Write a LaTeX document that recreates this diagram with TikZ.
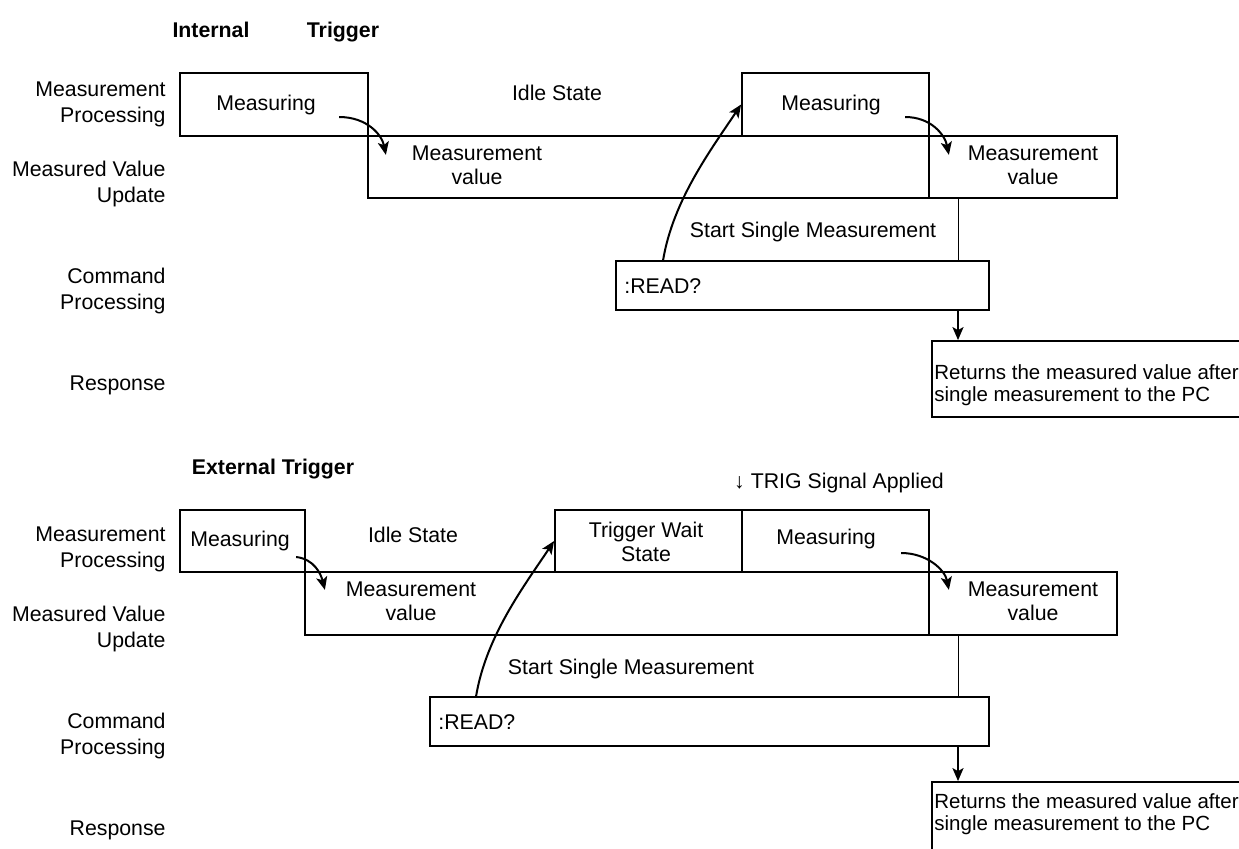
\documentclass[tikz,border=0pt]{standalone}
\usepackage{fontspec}
\setmainfont{Liberation Sans}
\usetikzlibrary{arrows.meta,fit,calc}

\tikzset{
  cell/.style={draw, line width=0.9pt, inner sep=0pt},
  txt/.style={inner sep=0pt, align=center, font=\fontsize{10.65}{11.8}\selectfont},
  lane/.style={inner sep=0pt, align=right, anchor=east, font=\fontsize{10.65}{13}\selectfont},
  note/.style={inner sep=0pt, align=left, anchor=west, font=\fontsize{10.25}{10.8}\selectfont},
  head/.style={inner sep=0pt, anchor=base, font=\bfseries\fontsize{10.65}{13}\selectfont},
  arr/.style={line width=1pt, -{Stealth[length=6.5pt,width=5.5pt,inset=1.5pt]}},
  tap/.style={line width=0.5pt}
}

\begin{document}
\begin{tikzpicture}[x=0.5pt, y=-0.5pt]
\useasboundingbox (0,0) rectangle (1239,848);
\clip (0,0) rectangle (1239,848);
% lanes
\foreach \y/\s in {0/A,445/C}{
  \node[lane] (mp\s) at (166,104+\y) {Measurement\\Processing};
  \node[lane] (mv\s) at (166,184+\y) {Measured Value\\Update};
  \node[lane] (cp\s) at (166,291+\y) {Command\\Processing};
  \node[lane] (rs\s) at (166,385+\y) {Response};
}
% internal trigger
\node[head] (intA) at (211,37) {Internal};
\node[head] (intB) at (343,37) {Trigger};
\node[cell, fit={(180,73) (368,136)}] (measA) {};
\node[txt] (measAt) at (266,105) {Measuring};
\node[txt] (idleA) at (557,93) {Idle State};
\node[cell, fit={(742,73) (929,136)}] (measB) {};
\node[txt] (measBt) at (831,105) {Measuring};
\node[cell, fit={(368,136) (929,198)}] (valA) {};
\node[txt] (valAt) at (477,165) {Measurement\\value};
\node[cell, fit={(929,136) (1117,198)}] (valB) {};
\node[txt] (valBt) at (1033,165) {Measurement\\value};
\node[txt] (startA) at (813,232) {Start Single Measurement};
\node[cell, fit={(616,261) (989,310)}] (readA) {};
\node[txt, anchor=west] (readAt) at (624,286) {:READ?};
\node[cell, fit={(932,341) (1260,417)}] (respA) {};
\node[note] (respAt) at (934,385) {Returns the measured value after\\single measurement to the PC};
\coordinate (tapA) at (958,198);
\draw[tap] (tapA) -- (tapA |- readA.north);
\draw[arr] (tapA |- readA.south) -- (tapA |- respA.north);
\draw[arr] ($(readA.north west)+(48,0)$) .. controls +(10,-60) and +(-30,45) .. (measB.west);
\draw[arr] ($(measAt.east)+(23,12)$) .. controls +(28,0) and +(-4,-20) .. ($(measA.south east)+(17,18)$);
\draw[arr] ($(measBt.east)+(24,12)$) .. controls +(26,0) and +(-4,-20) .. ($(measB.south east)+(19,18)$);
% external trigger
\node[head] (extA) at (273,474) {External Trigger};
\node[txt] (trigD) at (839,483) {↓ TRIG Signal Applied};
\node[cell, fit={(180,510) (305,572)}] (measC) {};
\node[txt] (measCt) at (240,541) {Measuring};
\node[txt] (idleC) at (413,535) {Idle State};
\node[cell, fit={(555,510) (742,572)}] (waitC) {};
\node[txt] (waitCt) at (646,542) {Trigger Wait\\State};
\node[cell, fit={(742,510) (929,572)}] (measD) {};
\node[txt] (measDt) at (826,539) {Measuring};
\node[cell, fit={(305,572) (929,635)}] (valC) {};
\node[txt] (valCt) at (411,601) {Measurement\\value};
\node[cell, fit={(929,572) (1117,635)}] (valD) {};
\node[txt] (valDt) at (1033,601) {Measurement\\value};
\node[txt] (startC) at (631,669) {Start Single Measurement};
\node[cell, fit={(430,697) (989,746)}] (readC) {};
\node[txt, anchor=west] (readCt) at (438,722) {:READ?};
\node[cell, fit={(932,782) (1260,900)}] (respC) {};
\node[note] (respCt) at (934,814) {Returns the measured value after\\single measurement to the PC};
\coordinate (tapC) at (958,635);
\draw[tap] (tapC) -- (tapC |- readC.north);
\draw[arr] (tapC |- readC.south) -- (tapC |- respC.north);
\draw[arr] ($(readC.north west)+(47,0)$) .. controls +(10,-60) and +(-30,45) .. (waitC.west);
\draw[arr] ($(measCt.east)+(6,16)$) .. controls +(18,2) and +(-4,-16) .. ($(measC.south east)+(19,17)$);
\draw[arr] ($(measDt.east)+(25,14)$) .. controls +(26,0) and +(-4,-20) .. ($(measD.south east)+(19,17)$);
\end{tikzpicture}
\end{document}
